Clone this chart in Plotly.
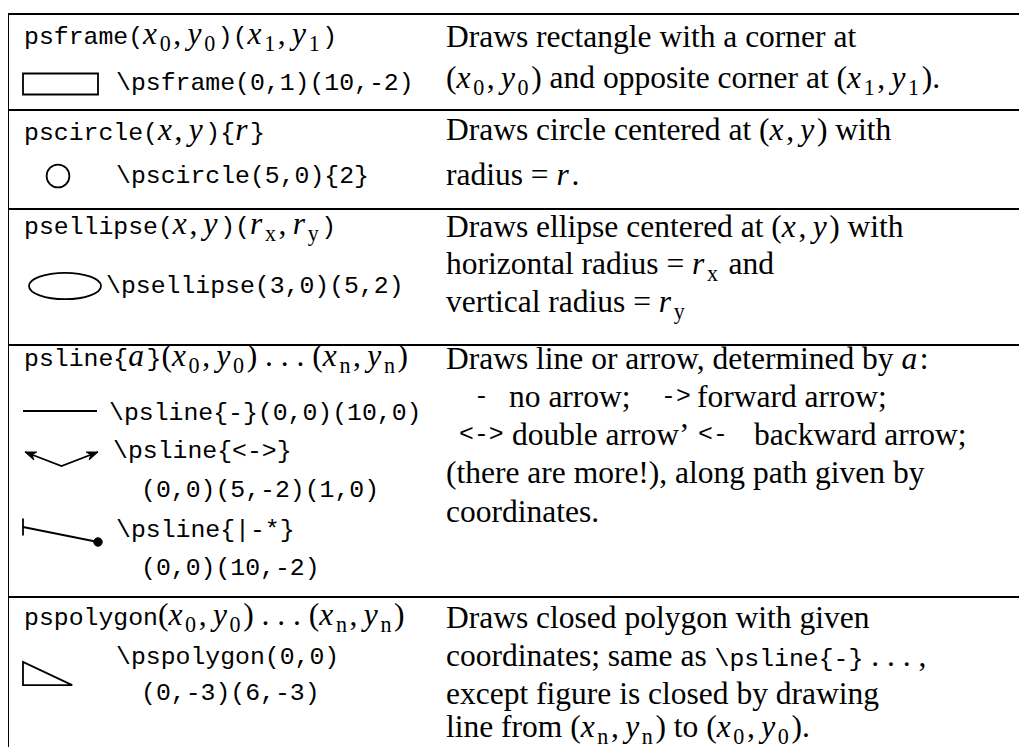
import plotly.graph_objects as go

W, H = 1027, 747
OFF = 8  # page body margin: keep data coords == page pixels
SERIF = "Liberation Serif"
MONO = "Liberation Mono"
SERIF_SIZE = 31.5
MONO_SIZE = 24.8
TH = "\u2009"  # thin space (after commas in math)
HS = "\u200a"  # hair space (after math letters)


def tt(s):
    return f'<span style="font-family:{MONO};font-size:{MONO_SIZE}px">{s}</span>'


def mi(s):
    return f"<i>{s}</i>{HS}"


def sub(v, i):
    return f"<i>{v}</i>{HS}<sub>{i}</sub>{HS}"


def pair(a, b):
    return f"{a},{TH}{b}"


# ---------------- table content ----------------
headers = [
    tt("psframe(") + pair(sub('x', 0), sub('y', 0)) + tt(")(") + pair(sub('x', 1), sub('y', 1)) + tt(")"),
    tt("pscircle(") + pair(mi("x"), mi("y")) + tt("){") + mi("r") + tt("}"),
    tt("psellipse(") + pair(mi("x"), mi("y")) + tt(")(") + pair(sub('r', 'x'), sub('r', 'y')) + tt(")"),
    tt("psline{") + mi("a") + tt("}") + f"({pair(sub('x', 0), sub('y', 0))}) . . . ({pair(sub('x', 'n'), sub('y', 'n'))})",
    tt("pspolygon") + f"({pair(sub('x', 0), sub('y', 0))}) . . . ({pair(sub('x', 'n'), sub('y', 'n'))})",
]
header_y = [36, 129, 226, 358, 617]

code_text = [
    "\\psframe(0,1)(10,-2)",
    "\\pscircle(5,0){2}",
    "\\psellipse(3,0)(5,2)",
    "\\psline{-}(0,0)(10,0)",
    "\\psline{&lt;-&gt;}",
    "(0,0)(5,-2)(1,0)",
    "\\psline{|-*}",
    "(0,0)(10,-2)",
    "\\pspolygon(0,0)",
    "(0,-3)(6,-3)",
]
code_x = [115, 115, 105, 108, 112, 140, 115, 140, 115, 140]
code_y = [83, 176, 286, 413, 451, 490, 530, 568, 657, 693]

desc_text = [
    "Draws rectangle with a corner at",
    f"({pair(sub('x', 0), sub('y', 0))}) and opposite corner at ({pair(sub('x', 1), sub('y', 1))}).",
    "Draws circle centered at (" + pair(mi("x"), mi("y")) + ") with",
    "radius = " + mi("r") + ".",
    "Draws ellipse centered at (" + pair(mi("x"), mi("y")) + ") with",
    "horizontal radius = " + sub("r", "x") + " and",
    "vertical radius = " + sub("r", "y"),
    "Draws line or arrow, determined by " + mi("a") + ":",
    "(there are more!), along path given by",
    "coordinates.",
    "Draws closed polygon with given",
    "coordinates; same as " + tt("\\psline{-}") + " . . . ,",
    "except figure is closed by drawing",
    f"line from ({pair(sub('x', 'n'), sub('y', 'n'))}) to ({pair(sub('x', 0), sub('y', 0))}).",
]
desc_y = [36, 80, 129, 174, 226, 266, 304, 358, 472, 511, 617, 655, 693, 729]

# arrow legend pieces (row 4, lines 2-3)
legend_text = [tt("-"), "no arrow;", tt("-&gt;"), "forward arrow;",
               tt("&lt;-&gt;"), "double arrow\u2019", tt("&lt;-"), "backward arrow;"]
legend_x = [473, 508, 660, 696, 458, 511, 697, 753]
legend_y = [396, 396, 396, 396, 434, 434, 434, 434]

# table rules
rule_y = [14, 110, 209, 345, 597]
DESC_X = 445
HEAD_X = 23
LEFT_X = 8

# pstricks sample coordinates (from the commands)
frame_pts = [(0, 1), (10, -2)]
circle_c, circle_r = (5, 0), 2
ellipse_c, ellipse_r = (3, 0), (5, 2)
line_pts = [(0, 0), (10, 0)]
arrow_pts = [(0, 0), (5, -2), (10, 0)]
bar_pts = [(0, 0), (10, -2)]
poly_pts = [(0, 0), (0, -3), (6, -3)]

# placement of each sample: origin (px) and scale (px / unit)
place = {
    "frame": ((23, 80.5), (7.5, 7.0)),
    "circle": ((29.5, 176), (5.7, 5.5)),
    "ellipse": ((43.4, 286), (7.2, 6.6)),
    "line": ((23, 411), (7.4, 7.4)),
    "arrow": ((25, 452), (7.3, 7.0)),
    "bar": ((23, 527), (7.5, 7.5)),
    "poly": ((23, 662), (8.2, 7.7)),
}


def tr(name, p):
    (ox, oy), (sx, sy) = place[name]
    return ox + p[0] * sx, oy - p[1] * sy


fig = go.Figure()
shapes = []
LINE = dict(color="black", width=2)
GL = dict(color="black", width=1.8)

# frame lines
for y in rule_y:
    shapes.append(dict(type="line", x0=LEFT_X, x1=W + OFF, y0=y, y1=y, line=LINE))
shapes.append(dict(type="line", x0=LEFT_X, x1=LEFT_X, y0=rule_y[0] - 1, y1=H + OFF, line=LINE))

# psframe sample
(x0, y0), (x1, y1) = tr("frame", frame_pts[0]), tr("frame", frame_pts[1])
shapes.append(dict(type="rect", x0=x0, x1=x1, y0=y0, y1=y1, line=GL))

# pscircle sample
cx, cy = tr("circle", circle_c)
rr = circle_r * place["circle"][1][0]
shapes.append(dict(type="circle", x0=cx - rr, x1=cx + rr, y0=cy - rr, y1=cy + rr, line=GL))

# psellipse sample
ex, ey = tr("ellipse", ellipse_c)
rx = ellipse_r[0] * place["ellipse"][1][0]
ry = ellipse_r[1] * place["ellipse"][1][1]
shapes.append(dict(type="circle", x0=ex - rx, x1=ex + rx, y0=ey - ry, y1=ey + ry, line=GL))


def path_of(pts, close=False):
    s = "M " + " L ".join(f"{x:.1f},{y:.1f}" for x, y in pts)
    return s + (" Z" if close else "")


# psline{-}
shapes.append(dict(type="path", path=path_of([tr("line", p) for p in line_pts]), line=GL))

# psline{<->}
apx = [tr("arrow", p) for p in arrow_pts]
shapes.append(dict(type="path", path=path_of(apx), line=GL))


def arrowhead(tip, frm, L=11, Wd=4.2):
    dx, dy = tip[0] - frm[0], tip[1] - frm[1]
    n = (dx * dx + dy * dy) ** 0.5
    ux, uy = dx / n, dy / n
    px, py = -uy, ux
    bx, by = tip[0] - ux * L, tip[1] - uy * L
    nx, ny = tip[0] - ux * L * 0.7, tip[1] - uy * L * 0.7
    pts = [tip, (bx + px * Wd, by + py * Wd), (nx, ny), (bx - px * Wd, by - py * Wd)]
    return path_of(pts, close=True)


shapes.append(dict(type="path", path=arrowhead(apx[0], apx[1]), line=dict(color="black", width=1), fillcolor="black"))
shapes.append(dict(type="path", path=arrowhead(apx[-1], apx[-2]), line=dict(color="black", width=1), fillcolor="black"))

# psline{|-*}
bpx = [tr("bar", p) for p in bar_pts]
shapes.append(dict(type="path", path=path_of(bpx), line=GL))
shapes.append(dict(type="line", x0=bpx[0][0], x1=bpx[0][0], y0=bpx[0][1] - 8.5, y1=bpx[0][1] + 8.5, line=GL))
shapes.append(dict(type="circle", x0=bpx[1][0] - 4.2, x1=bpx[1][0] + 4.2, y0=bpx[1][1] - 4.2, y1=bpx[1][1] + 4.2,
                   line=dict(color="black", width=1), fillcolor="black"))

# pspolygon
shapes.append(dict(type="path", path=path_of([tr("poly", p) for p in poly_pts], close=True), line=GL))

annotations = []


def add_text(txt, x, y):
    annotations.append(dict(text=txt, x=x, y=y, xref="x", yref="y", xanchor="left", yanchor="middle",
                            showarrow=False, align="left", borderpad=0,
                            font=dict(family=SERIF, size=SERIF_SIZE, color="black")))


for t, y in zip(headers, header_y):
    add_text(t, HEAD_X, y)
for t, x, y in zip(code_text, code_x, code_y):
    add_text(tt(t), x, y)
for t, y in zip(desc_text, desc_y):
    add_text(t, DESC_X, y)
for t, x, y in zip(legend_text, legend_x, legend_y):
    add_text(t, x, y)

fig.update_layout(
    width=W, height=H, margin=dict(l=0, r=0, t=0, b=0),
    paper_bgcolor="white", plot_bgcolor="white",
    xaxis=dict(range=[OFF, W + OFF], visible=False, fixedrange=True),
    yaxis=dict(range=[H + OFF, OFF], visible=False, fixedrange=True),
    shapes=shapes, annotations=annotations, showlegend=False,
)

fig.write_html("out.html", config={"displayModeBar": False})
